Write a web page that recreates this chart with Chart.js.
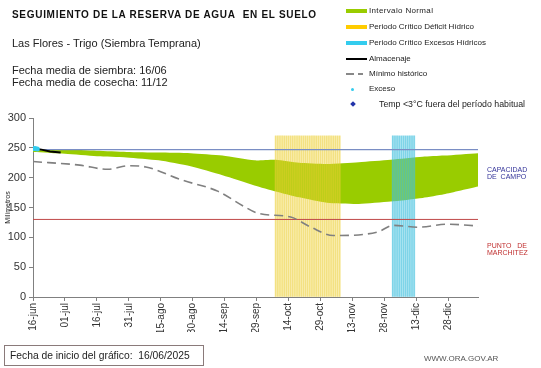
<!DOCTYPE html>
<html>
<head>
<meta charset="utf-8">
<script src="https://cdn.jsdelivr.net/npm/chart.js@4.4.1/dist/chart.umd.min.js"></script>
<style>
  body { margin: 0; background: #fff; font-family: 'Liberation Sans', Arial, sans-serif; }
  #wrap { position: relative; width: 541px; height: 368px; overflow: hidden; }
  #chart { position: absolute; left: 0; top: 0; }
  .t { position: absolute; white-space: nowrap; line-height: 1; color: #111; }
  .lg { position: absolute; left: 346px; width: 200px; height: 10px; }
  .lg span { position: absolute; left: 23px; top: 1px; font-size: 8px; line-height: 8px; color: #222; }
  .sw { position: absolute; left: 0; top: 3px; width: 21px; height: 4px; }
</style>
</head>
<body>
<div id="wrap">
  <canvas id="chart" width="541" height="368"></canvas>

  <div class="t" style="left:12px;top:10px;font-size:10px;letter-spacing:0.7px;font-weight:bold;">SEGUIMIENTO DE LA RESERVA DE AGUA&nbsp; EN EL SUELO</div>
  <div class="t" style="left:12px;top:38px;font-size:11px;color:#222;">Las Flores - Trigo (Siembra Temprana)</div>
  <div class="t" style="left:12px;top:65px;font-size:11px;color:#222;">Fecha media de siembra: 16/06</div>
  <div class="t" style="left:12px;top:77px;font-size:11px;color:#222;">Fecha media de cosecha: 11/12</div>

  <!-- leyenda -->
  <div class="lg" style="top:6px"><div class="sw" style="background:#99cc00"></div><span style="letter-spacing:0.35px">Intervalo Normal</span></div>
  <div class="lg" style="top:22px"><div class="sw" style="background:#ffcc00"></div><span>Periodo Crítico Déficit Hídrico</span></div>
  <div class="lg" style="top:38px"><div class="sw" style="background:#33ccee"></div><span>Periodo Crítico Excesos Hídricos</span></div>
  <div class="lg" style="top:54px"><div class="sw" style="top:4px;height:2px;background:#000"></div><span>Almacenaje</span></div>
  <div class="lg" style="top:69px"><div class="sw" style="top:4px;height:2px;background:linear-gradient(90deg,#888 0 8px,transparent 8px 12px,#888 12px 17px,transparent 17px)"></div><span>Mínimo histórico</span></div>
  <div class="lg" style="top:84px"><div class="sw" style="left:5px;top:4px;width:3px;height:3px;border-radius:2px;background:#33ccee"></div><span>Exceso</span></div>
  <div class="lg" style="top:99px"><div class="sw" style="left:5px;top:3px;width:4px;height:4px;transform:rotate(45deg);background:#2233aa"></div><span style="left:33px;font-size:8.8px;">Temp &lt;3°C fuera del período habitual</span></div>

  <div class="t" style="left:487px;top:166px;font-size:7px;color:#333399;">CAPACIDAD<br>DE&nbsp; CAMPO</div>
  <div class="t" style="left:487px;top:242px;font-size:7px;color:#c03030;">PUNTO&nbsp;&nbsp; DE<br>MARCHITEZ</div>

  <div class="t" style="left:4px;top:345px;width:198px;height:19px;border:1px solid #8a7a7a;"></div>
  <div class="t" style="left:10px;top:351px;font-size:10.3px;color:#222;">Fecha de inicio del gráfico:&nbsp; 16/06/2025</div>
  <div class="t" style="left:424px;top:355px;font-size:8px;color:#555;">WWW.ORA.GOV.AR</div>
</div>

<script>
// eje x en días desde el 16/06
const tickDays = [0, 15, 30, 45, 60, 75, 90, 105, 120, 135, 150, 165, 180, 195];
const tickLabels = ['16-jun', '01-jul', '16-jul', '31-jul', '15-ago', '30-ago', '14-sep',
                    '29-sep', '14-oct', '29-oct', '13-nov', '28-nov', '13-dic', '28-dic'];
const lastDay = 209;

// intervalo normal
const bandDays  = [0, 15, 30, 44, 59, 74, 89, 104, 114, 125, 138, 153, 168, 183, 193, 209];
const bandUpper = [248, 247, 245, 243, 242, 241, 237, 229, 230, 225, 223, 226, 230, 235, 237, 241];
const bandLower = [243, 240, 236, 234, 229, 219, 204, 187, 177, 167, 158, 156, 160, 166, 172, 185];

// mínimo histórico
const minDays = [0, 22, 35, 45, 53, 70, 87, 99, 106, 121, 130, 141, 162, 169, 181, 195, 209];
const minHist = [227, 221, 214, 220, 218, 196, 177, 152, 140, 134, 118, 103, 109, 120, 117, 122, 119];

// almacenaje y excesos
const almDays = [0, 4, 8, 13];
const almValues = [249, 247, 244, 242];
const excesoDays = [0, 1, 2];
const excesoValues = [249, 249, 248];

// referencias
const capacidadCampo = 247;
const puntoMarchitez = 130;

// periodos críticos (primer y último día) y alto de las barras
const periodoDeficit = [114, 144];
const periodoExceso = [169, 179];
const periodoTop = 270;

const pts = (xs, ys) => xs.map((x, i) => ({ x: x, y: ys[i] }));
const dailyBars = (range) => {
    let out = [];
    for (let d = range[0]; d <= range[1]; d++) out.push({ x: d, y: periodoTop });
    return out;
};

const datasets = [
    { data: pts(bandDays, bandLower), borderWidth: 0, pointRadius: 0, fill: false, tension: 0.2, order: 10 },
    { data: pts(bandDays, bandUpper), borderWidth: 0, pointRadius: 0, fill: '-1', backgroundColor: '#99cc00', tension: 0.2, order: 9 },
    // fondo claro y rayas de los periodos
    { type: 'bar', data: dailyBars(periodoDeficit), backgroundColor: 'rgba(245,220,90,0.15)', barPercentage: 1, categoryPercentage: 1, grouped: false, order: 6 },
    { type: 'bar', data: dailyBars(periodoDeficit), backgroundColor: 'rgba(235,205,50,0.55)', barThickness: 1, grouped: false, order: 5 },
    { type: 'bar', data: dailyBars(periodoExceso), backgroundColor: 'rgba(110,210,235,0.2)', barPercentage: 1, categoryPercentage: 1, grouped: false, order: 6 },
    { type: 'bar', data: dailyBars(periodoExceso), backgroundColor: 'rgba(60,190,220,0.6)', barThickness: 1, grouped: false, order: 5 },
    { data: pts([0, lastDay], [capacidadCampo, capacidadCampo]), borderColor: '#7a8ec4', borderWidth: 1.3, pointRadius: 0, order: 3 },
    { data: pts([0, lastDay], [puntoMarchitez, puntoMarchitez]), borderColor: '#c04848', borderWidth: 1, pointRadius: 0, order: 3 },
    { data: pts(minDays, minHist), borderColor: '#808080', borderWidth: 1.6, borderDash: [9, 5], pointRadius: 0, cubicInterpolationMode: 'monotone', order: 2 },
    { data: pts(almDays, almValues), borderColor: '#000', borderWidth: 2, pointRadius: 0, order: 1 },
    { data: pts(excesoDays, excesoValues), showLine: false, pointRadius: 2.5, pointBorderWidth: 0, pointBackgroundColor: '#33ccee', order: 0 }
];

new Chart(document.getElementById('chart'), {
    type: 'line',
    data: { datasets: datasets },
    options: {
        responsive: false,
        animation: false,
        layout: { padding: { left: 0, right: 63, top: 118, bottom: 36 } },
        plugins: { legend: { display: false }, tooltip: { enabled: false } },
        scales: {
            x: {
                type: 'linear', min: 0, max: lastDay, offset: false,
                afterBuildTicks: (s) => { s.ticks = tickDays.map(v => ({ value: v })); },
                afterFit: (s) => { s.height = 35; },
                ticks: {
                    autoSkip: false, minRotation: 90, maxRotation: 90, padding: 2,
                    font: { family: 'Liberation Sans', size: 10 }, color: '#333',
                    callback: (v) => tickLabels[tickDays.indexOf(v)]
                },
                grid: { offset: false, drawOnChartArea: false, tickLength: 4, color: '#808080' },
                border: { color: '#808080' }
            },
            y: {
                min: 0, max: 300,
                afterFit: (s) => { s.width = 33; },
                ticks: { stepSize: 50, padding: 3, font: { family: 'Liberation Sans', size: 11 }, color: '#333' },
                grid: { drawOnChartArea: false, tickLength: 4, color: '#808080' },
                border: { color: '#808080' },
                title: { display: true, text: 'Milímetros', padding: { top: 4, bottom: 0 }, font: { family: 'Liberation Sans', size: 7 }, color: '#222' }
            }
        }
    }
});
</script>
</body>
</html>
